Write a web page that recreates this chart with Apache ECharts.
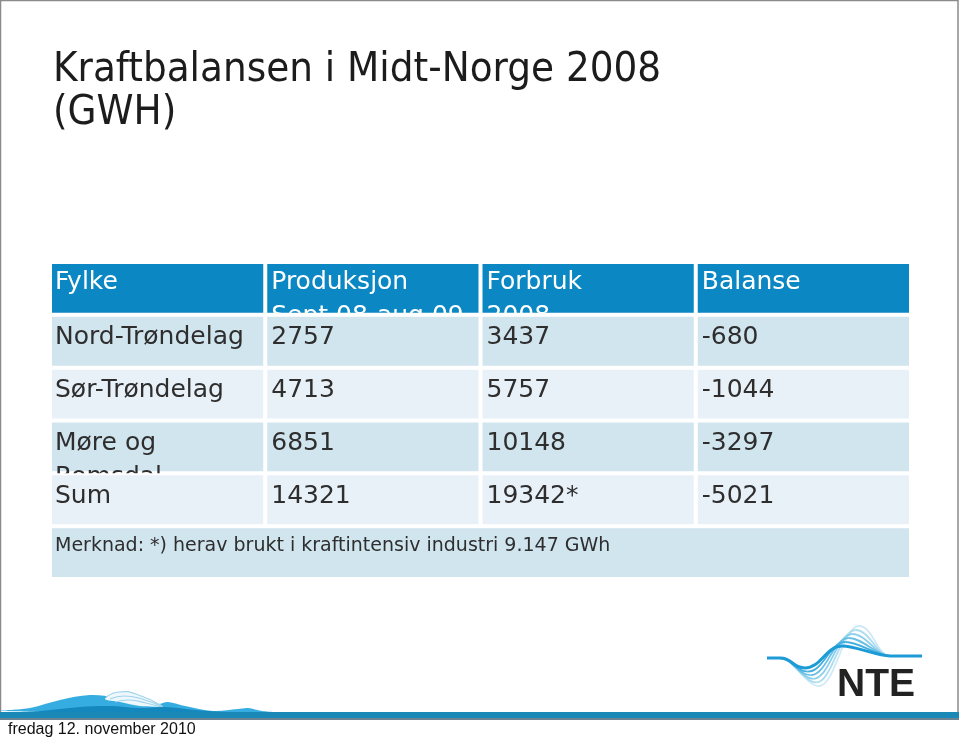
<!DOCTYPE html>
<html>
<head>
<meta charset="utf-8">
<script src="https://cdn.jsdelivr.net/npm/echarts@6/dist/echarts.min.js"></script>
<style>
html, body { margin: 0; padding: 0; background: #fff; }
#main { width: 959px; height: 742px; }
</style>
</head>
<body>
<div id="main"></div>
<script>
// tabelldata
const kolonner = ['Fylke', 'Produksjon\nSept 08-aug 09', 'Forbruk\n2008', 'Balanse'];
const fylker = ['Nord-Trøndelag', 'Sør-Trøndelag', 'Møre og\nRomsdal', 'Sum'];
const produksjon = [2757, 4713, 6851, 14321];
const forbruk = [3437, 5757, 10148, 19342];
const forbrukMerke = ['', '', '', '*'];
const balanse = [-680, -1044, -3297, -5021];
const merknad = 'Merknad: *) herav brukt i kraftintensiv industri 9.147 GWh';
const rader = ['head', 'nt', 'st', 'mr', 'sum', 'merknad'];

let myChart = echarts.init(document.getElementById('main'));

// bygg celler rad for rad (rekkefolgen styrer hva som dekker over hva)
let celler = [];
kolonner.forEach((k, c) => celler.push({ col: c, row: 0, span: 1, text: k, kind: 'head' }));
fylker.forEach((f, i) => {
  let row = i + 1;
  celler.push({ col: 0, row: row, span: 1, text: f, kind: 'body' });
  celler.push({ col: 1, row: row, span: 1, text: String(produksjon[i]), kind: 'body' });
  celler.push({ col: 2, row: row, span: 1, text: forbruk[i] + forbrukMerke[i], kind: 'body' });
  celler.push({ col: 3, row: row, span: 1, text: String(balanse[i]), kind: 'body' });
});
celler.push({ col: 0, row: 5, span: 4, text: merknad, kind: 'note' });

const radFarge = ['#0b87c3', '#d1e5ef', '#e9f1f8', '#d1e5ef', '#e9f1f8', '#d1e5ef'];

function renderCell(params, api) {
  let cell = celler[params.dataIndex];
  let pt = api.coord([api.value(0), api.value(1)]);
  let sz = api.size([1, 1]);
  let x = pt[0] - sz[0] / 2;
  let y = pt[1] - sz[1] / 2;
  let w = sz[0] * cell.span;
  let h = sz[1];
  let isNote = cell.kind === 'note';
  return {
    type: 'group',
    children: [
      {
        type: 'rect',
        z2: cell.row * 2,
        shape: { x: x + 1, y: y + 1, width: w - 2, height: h - 2 },
        style: { fill: radFarge[cell.row], stroke: '#fff', lineWidth: 2 }
      },
      {
        type: 'text',
        z2: cell.row * 2 + 1,
        style: {
          x: x + (cell.col === 0 ? 5 : 6),
          y: y + (cell.row === 0 ? 3.5 : (isNote ? 9 : 6)),
          text: cell.text,
          fill: cell.kind === 'head' ? '#ffffff' : '#2e2e2e',
          fontFamily: 'DejaVu Sans',
          fontSize: isNote ? 19 : 25,
          lineHeight: isNote ? 22 : 34,
          align: 'left',
          verticalAlign: 'top'
        }
      }
    ]
  };
}

// NTE-bolger, bygd av bezierkurver
let bolger = [];
const bolgeFarger = ['#1d9bd7', '#42afe0', '#68bfe6', '#8ccfec', '#addcf1', '#cdeaf6'];
bolgeFarger.forEach((col, i) => {
  let t = i / 5;
  let tx = 805 + 14 * t, ty = 668 + 18 * t;
  let px = 842 + 17 * t, py = 646 - 20 * t;
  let st = { stroke: col, lineWidth: i === 0 ? 3 : 1.8, fill: null };
  let z = 10 - i;
  bolger.push(
    { type: 'line', z: z, shape: { x1: 767, y1: 658, x2: 780, y2: 658 }, style: st },
    { type: 'bezierCurve', z: z, shape: { x1: 780, y1: 658, cpx1: 793, cpy1: 658, cpx2: tx - 13, cpy2: ty, x2: tx, y2: ty }, style: st },
    { type: 'bezierCurve', z: z, shape: { x1: tx, y1: ty, cpx1: tx + 16, cpy1: ty, cpx2: px - 16, cpy2: py, x2: px, y2: py }, style: st },
    { type: 'bezierCurve', z: z, shape: { x1: px, y1: py, cpx1: px + 14, cpy1: py, cpx2: 877, cpy2: 656, x2: 890, y2: 656 }, style: st },
    { type: 'line', z: z, shape: { x1: 890, y1: 656, x2: 922, y2: 656 }, style: st }
  );
});

let option = {
  animation: false,
  backgroundColor: '#fff',
  grid: { left: 50, right: 48, top: 262, bottom: 163 },
  xAxis: { type: 'category', data: kolonner, show: false },
  yAxis: { type: 'category', data: rader, inverse: true, show: false },
  series: [
    {
      type: 'custom',
      renderItem: renderCell,
      clip: false,
      data: celler.map(c => [c.col, c.row, c.span])
    }
  ],
  graphic: [
    // ramme rundt lysbildet
    { type: 'rect', shape: { x: 0.5, y: 0.5, width: 957.5, height: 718 }, style: { fill: null, stroke: '#8a8a8a', lineWidth: 1.5 } },
    {
      type: 'text', left: 53, top: 49,
      style: {
        text: 'Kraftbalansen i Midt-Norge 2008\n(GWH)',
        fill: '#1c1c1c',
        fontFamily: '"DejaVu Sans Condensed", "DejaVu Sans"',
        fontSize: 41.6,
        lineHeight: 43
      }
    },
    // fjell nede til venstre
    { type: 'polygon', shape: { points: [[1, 711], [30, 708], [60, 700], [90, 695], [115, 697], [140, 701], [158, 704], [168, 702], [185, 706], [213, 711], [238, 709], [248, 708], [262, 711], [285, 713]], smooth: 0.35 }, style: { fill: '#36ade0' } },
    { type: 'polygon', shape: { points: [[105, 699], [118, 692], [135, 694], [150, 700], [162, 706], [140, 706], [120, 702]], smooth: 0.3 }, style: { fill: '#eef8fc' } },
    { type: 'polyline', shape: { points: [[106, 697], [119, 692], [136, 694], [162, 706]], smooth: 0.5 }, style: { stroke: '#9fd3ea', lineWidth: 1.2, fill: null } },
    { type: 'polyline', shape: { points: [[110, 699], [124, 696], [142, 699], [163, 707]], smooth: 0.5 }, style: { stroke: '#9fd3ea', lineWidth: 1.2, fill: null } },
    { type: 'polyline', shape: { points: [[115, 702], [129, 700], [146, 703], [164, 708]], smooth: 0.5 }, style: { stroke: '#9fd3ea', lineWidth: 1.2, fill: null } },
    { type: 'polygon', shape: { points: [[1, 713], [40, 711], [80, 707], [110, 706], [140, 708], [165, 707], [195, 710], [230, 712], [290, 713]], smooth: 0.35 }, style: { fill: '#1487bd' } },
    // blatt band nederst
    { type: 'rect', shape: { x: 0, y: 712, width: 959, height: 6 }, style: { fill: '#1b89b8' } },
    { type: 'rect', shape: { x: 0, y: 718, width: 959, height: 2 }, style: { fill: '#6e8391' } },
    {
      type: 'text', left: 8, top: 722,
      style: { text: 'fredag 12. november 2010', fill: '#111', fontFamily: 'Liberation Sans', fontSize: 16 }
    },
    ...bolger,
    {
      type: 'text', left: 837, top: 666,
      style: { text: 'NTE', fill: '#222', fontFamily: 'Liberation Sans', fontWeight: 'bold', fontSize: 39 }
    }
  ]
};

myChart.setOption(option);
</script>
</body>
</html>
